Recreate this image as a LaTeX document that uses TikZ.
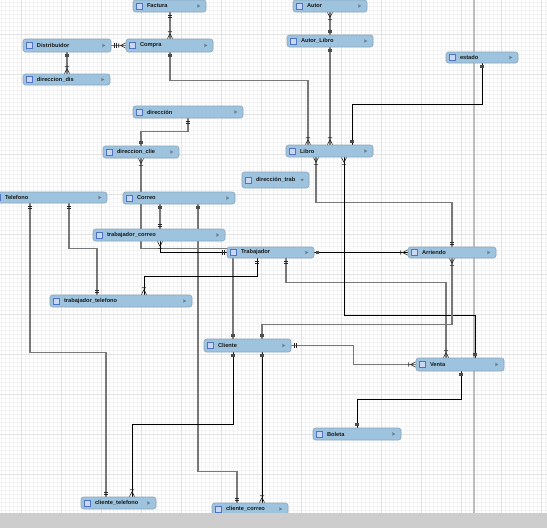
\documentclass[tikz,border=0pt]{standalone}
\usepackage{fontspec}
\newfontfamily\tblfont{Liberation Sans}
\usetikzlibrary{decorations.markings}

\definecolor{tblfill}{HTML}{9DC3DE}
\definecolor{tbldraw}{HTML}{8BA5B9}
\definecolor{tblicon}{HTML}{CAD7F3}
\definecolor{tbliconrim}{HTML}{5173C4}
\definecolor{tblmark}{HTML}{6E7E8A}
\definecolor{relgray}{HTML}{787878}
\definecolor{gridminor}{HTML}{F3F3F3}
\definecolor{gridmajor}{HTML}{E2E2E2}
\definecolor{pageline}{HTML}{BDBDBD}
\definecolor{bottomband}{HTML}{CDCDCD}

\pgfdeclarelayer{bg}
\pgfdeclarelayer{links}
\pgfdeclarelayer{front}
\pgfsetlayers{bg,links,main,front}

\tikzset{
  tbox/.style={rectangle, rounded corners=2.5pt, draw=tbldraw, fill=tblfill,
    line width=0.6pt, inner sep=0pt, align=left, text=black!90,
    font=\tblfont\bfseries\fontsize{5.7}{6}\selectfont,
    path picture={
      \filldraw[sharp corners, fill=tblicon, draw=tbliconrim, line width=0.5pt]
        ([xshift=3.5pt,yshift=-3pt]path picture bounding box.west) rectangle ++(6pt,6pt);
    }},
  relg/.style={draw=relgray, line width=1.5pt},
  relb/.style={draw=black, line width=0.8pt},
  mk/.style={draw=black!85, line width=0.6pt},
  mkfill/.style={fill=black!70},
  % exactly one: two bars near the end
  e1/.style={postaction={decorate,decoration={markings,
    mark=at position -2.5pt with {\draw[mk] (0pt,-2.2pt)--(0pt,2.2pt);},
    mark=at position -4.5pt with {\draw[mk] (0pt,-2.2pt)--(0pt,2.2pt);}}}},
  s1/.style={postaction={decorate,decoration={markings,
    mark=at position 2.5pt with {\draw[mk] (0pt,-2.2pt)--(0pt,2.2pt);},
    mark=at position 4.5pt with {\draw[mk] (0pt,-2.2pt)--(0pt,2.2pt);}}}},
  % small square end
  esq/.style={postaction={decorate,decoration={markings,
    mark=at position -3.5pt with {\fill[mkfill] (-1.6pt,-1.6pt) rectangle (1.6pt,1.6pt);}}}},
  ssq/.style={postaction={decorate,decoration={markings,
    mark=at position 3.5pt with {\fill[mkfill] (-1.6pt,-1.6pt) rectangle (1.6pt,1.6pt);}}}},
  % one or many: crow's foot with a bar
  emany/.style={postaction={decorate,decoration={markings,
    mark=at position -5pt with {\draw[mk] (5pt,2.6pt)--(0pt,0pt)--(5pt,-2.6pt) (-2pt,-2.2pt)--(-2pt,2.2pt);}}}},
  smany/.style={postaction={decorate,decoration={markings,
    mark=at position 5pt with {\draw[mk] (-5pt,2.6pt)--(0pt,0pt)--(-5pt,-2.6pt) (2pt,-2.2pt)--(2pt,2.2pt);}}}},
}

% table box: name, left, top, right, bottom, caption
\newcommand\tblnode[6]{%
  \pgfmathsetmacro\tblw{#4-#2}%
  \pgfmathsetmacro\tblh{#5-#3}%
  \node[tbox, text width=\tblw pt, minimum height=\tblh pt] (#1)
    at ({(#2+#4)/2},{(#3+#5)/2}) {\hspace*{14pt}#6};
  \fill[tblmark] ([xshift=-9pt,yshift=1.8pt]#1.east) -- ++(3pt,-1.8pt) -- ++(-3pt,-1.8pt) -- cycle;
}

\begin{document}
\begin{tikzpicture}[x=1pt,y=-1pt]
\useasboundingbox (0,0) rectangle (547,528);
\clip (0,0) rectangle (547,528);

\begin{pgfonlayer}{bg}
  \fill[white] (0,0) rectangle (547,528);
  \foreach \gx in {1,5,...,547} \draw[gridminor, line width=0.5pt] (\gx,0) -- (\gx,528);
  \foreach \gy in {2,6,...,528} \draw[gridminor, line width=0.5pt] (0,\gy) -- (547,\gy);
  \foreach \gx in {21,61,...,541} \draw[gridmajor, line width=0.9pt] (\gx,0) -- (\gx,528);
  \foreach \gy in {34,74,...,514} \draw[gridmajor, line width=0.9pt] (0,\gy) -- (547,\gy);
  \draw[pageline, line width=1.6pt] (474,0) -- (474,528);
\end{pgfonlayer}

% tables
\tblnode{factura}{133}{0}{206}{12}{Factura}
\tblnode{autor}{293}{0}{367}{12}{Autor}
\tblnode{distribuidor}{23}{39}{111}{52}{Distribuidor}
\tblnode{compra}{126}{39}{213}{52}{Compra}
\tblnode{autorlibro}{287}{35}{373}{47}{Autor\_Libro}
\tblnode{dirdis}{23}{74}{110}{85}{direccion\_dis}
\tblnode{estado}{446}{52}{518}{63}{estado}
\tblnode{direccion}{133}{106}{243}{118}{dirección}
\tblnode{dirclie}{103}{146}{179}{158}{direccion\_clie}
\tblnode{libro}{286}{145}{373}{157}{Libro}
\node[tbox, text width=67pt, minimum height=16pt] (dirtrab) at (275.5,180) {\hspace*{14pt}dirección\_trab};
\fill[tblmark] ([xshift=-9pt,yshift=1.2pt]dirtrab.east) -- ++(3.6pt,0pt) -- ++(-1.8pt,-2.6pt) -- cycle;
\tblnode{telefono}{-9}{192}{107}{203}{Telefono}
\tblnode{correo}{123}{192}{235}{204}{Correo}
\tblnode{trabcorreo}{93}{229}{225}{241}{trabajador\_correo}
\tblnode{trabajador}{227}{247}{314}{258}{Trabajador}
\tblnode{arriendo}{408}{247}{496}{258}{Arriendo}
\tblnode{trabtel}{50}{295}{192}{307}{trabajador\_telefono}
\tblnode{cliente}{204}{339}{291}{352}{Cliente}
\tblnode{venta}{416}{358}{504}{371}{Venta}
\tblnode{boleta}{313}{428}{401}{440}{Boleta}
\tblnode{clietel}{81}{497}{156}{509}{cliente\_telefono}
\tblnode{cliecorreo}{212}{503}{288}{515}{cliente\_correo}

% relationships
\begin{pgfonlayer}{links}
  \draw[relg, s1, emany] (factura.south -| 170,0) -- (compra.north -| 170,0);
  \draw[relg, s1, emany] (distribuidor.east) -- (compra.west);
  \draw[relg, ssq, emany] (distribuidor.south -| 67,0) -- (dirdis.north -| 67,0);
  \draw[relg, ssq, emany] (compra.south -| 170,0) -- ++(0,28) -| (libro.north -| 308,0);
  \draw[relg, smany, esq] (autor.south -| 330,0) -- (autorlibro.north -| 330,0);
  \draw[relg, ssq, emany] (autorlibro.south -| 330,0) -- (libro.north -| 330,0);
  \draw[relb, ssq, esq] (estado.south -| 482,0) -- ++(0,41) -| (libro.north -| 352,0);
  \draw[relg, s1, esq] (direccion.south -| 188,0) -- ++(0,13) -| (dirclie.north -| 141,0);
  \draw[relg, smany, esq] (dirclie.south -| 141,0) -- ++(0,90) -| (cliente.north -| 233,0);
  \draw[relg, ssq, e1] (correo.south -| 160,0) -- (trabcorreo.north -| 160,0);
  \draw[relg, ssq, e1] (correo.south -| 198,0) -- ++(0,267) -| (cliecorreo.north -| 237,0);
  \draw[relg, s1, e1] (telefono.south -| 30,0) -- ++(0,149) -| (clietel.north -| 106,0);
  \draw[relg, s1, e1] (telefono.south -| 69,0) -- ++(0,45) -| (trabtel.north -| 97,0);
  \draw[relb, smany, e1] (trabcorreo.south -| 160,0) |- (trabajador.west);
  \draw[relb, s1, emany] (trabajador.south -| 257,0) -- ++(0,18) -| (trabtel.north -| 144,0);
  \draw[relb, ssq, emany] (trabajador.east) -- (arriendo.west);
  \draw[relg, s1, emany] (trabajador.south -| 286,0) -- ++(0,24) -| (venta.north -| 446,0);
  \draw[relg, smany, e1] (libro.south -| 316,0) -- ++(0,45) -| (arriendo.north -| 452,0);
  \draw[relb, smany, esq] (libro.south -| 344,0) -- ++(0,158) -| (venta.north -| 475,0);
  \draw[relg, smany, esq] (arriendo.south -| 452,0) -- ++(0,66) -| (cliente.north -| 262,0);
  \draw[relg, s1, emany] (cliente.east) -- ++(62,0) |- (venta.west);
  \draw[relb, ssq, esq] (venta.south -| 461,0) -- ++(0,28) -| (boleta.north -| 357,0);
  \draw[relb, ssq, emany] (cliente.south -| 233,0) -- ++(0,72) -| (clietel.north -| 132,0);
  \draw[relb, ssq, emany] (cliente.south -| 262,0) -- (cliecorreo.north -| 262,0);
\end{pgfonlayer}

\begin{pgfonlayer}{front}
  \fill[bottomband] (0,513) rectangle (547,528);
\end{pgfonlayer}
\end{tikzpicture}
\end{document}
